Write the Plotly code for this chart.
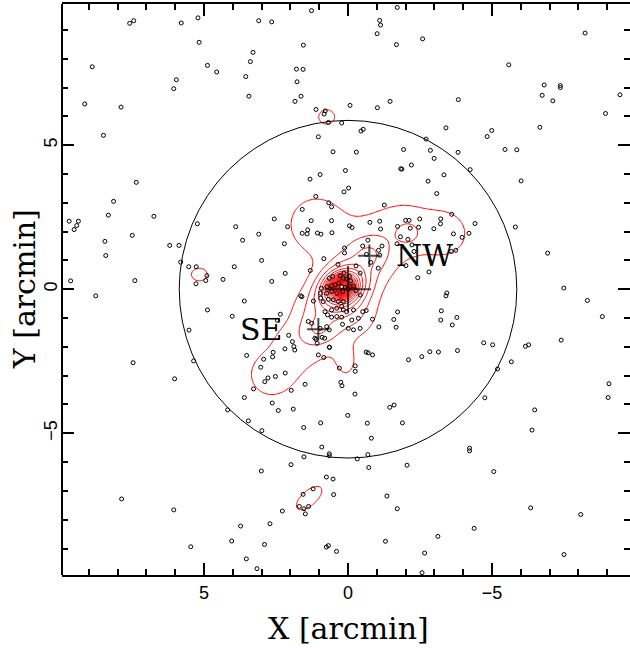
import numpy as np
import plotly.graph_objects as go

# Galaxy positions relative to the cluster centre (arcmin)
gal_x = [
    7.58, 7.44, 5.79, 5.21, 5.17, 8.88, 4.88, 4.56, 5.96, 6.05, 3.55, 3.39, 3.44, 9.14, 7.88, 8.49,
    7.35, 8.14, 8.32, 6.74, 9.68, 9.36, 9.42, 9.51, 7.49, 8.44, 8.41, 6.19, 5.87, 5.23, 3.90, 3.66,
    5.81, 5.53, 5.27, 4.90, 4.94, 5.28, 4.34, 3.95, 9.63, 7.40,
    1.27, -1.71, 3.10, 2.65, -1.10, -1.13, -1.01, -2.59, -1.68, 1.55, 3.30, 1.79, 1.56, 1.77, 1.63,
    1.84, -0.07, -1.02, -1.46, 1.11, 0.79, 0.83, 0.68, 0.22, -0.45, -0.53, 1.03, -2.71, -1.93, -2.86,
    -2.99, 0.52, -0.29, -1.83, -1.87, -2.20, 0.09, 0.97, 1.32, -2.78, -0.02, 0.14, -3.08, 1.12, -1.26,
    0.67, 0.57, 1.59, 2.56, 1.28, 0.57, 2.10, 3.10, 1.59, 1.42, 1.40, 1.06, 0.94, 0.56, -0.05, -0.14,
    -0.76, -1.10, -1.13, -1.72, -2.00, -2.12, -2.16, -2.49, -2.45, -2.98, -3.22, -3.21, -1.82, -2.08,
    -1.70, -2.22, -2.29, 2.21, 3.00, 0.84, 0.12, 0.12, -0.69, -0.51, -1.18, -1.06, -1.10, -0.64, -0.79,
    -0.28, -1.05, 0.35, 1.31, 2.18, 2.65, -2.01, -2.81, -2.42, 0.14, -0.42,
    -8.23, -5.58, -6.81, -7.37, -7.37, -6.74, -7.11, -9.44, -8.94, -3.83, -3.40, -4.99, -4.83, -6.66,
    -3.82, -5.45, -5.86, -4.24, -3.33, -6.01, -3.60, -4.41, -5.81, -3.66, -4.20, -3.96, -3.59, -3.74,
    -6.93, -7.49,
    8.76, 4.88, 4.02, 3.60, 5.52, 3.52, 5.36, 7.46, 6.02, 3.60, 4.18, 3.46, 7.86, 6.05, 3.73, 4.04,
    5.46, 3.53,
    1.64, 1.60, 2.35, 2.45, 2.06, 1.93, 2.19, 1.85, 2.60, 2.62, 2.93, 3.03, 2.18, 2.52, 2.78, 2.89,
    3.28, 1.97, 1.49, 2.63, 2.42, 1.90, 2.99, 1.54, 0.95, 0.01, -0.67, -0.81, -1.89, -1.45, -1.60,
    -0.24, 0.25, 0.21, 0.30, -0.25, -0.25, 1.03, 0.84, 0.64, -0.63, -0.70, -0.85, -2.10, -2.56, -2.84,
    -3.14, -1.72, -1.59, -1.67, -3.24, -3.22, -1.07, -0.85, 0.91, 0.65, 0.65, 1.53, -0.32, -0.69,
    -0.72, -2.05, 1.98, 3.01, 0.75, 0.52, 1.21, 0.50, 1.56, 1.69, 1.53, 1.37, 1.48, 2.28, 2.71, -1.35,
    -1.71, 2.90, 0.75, 0.68, 0.40, -1.30, -2.66, -3.12, 3.16, -2.57,
    -3.43, -3.40, -3.78, -3.62, -3.80, -4.71, -5.02, -6.16, -6.27, -7.40, -8.31, -8.83, -5.67, -5.19,
    -4.75, -6.48, -6.39, -9.06, -9.03, -4.22, -4.22, -5.06, -6.34, -8.08, -4.38, -7.50,
    0.65, 0.53, 0.28, 0.16, 0.05, -0.05, -0.09, 0.32, 0.45, 0.22, 0.10, -0.07, -0.19, 0.72, 0.57,
    0.92, 0.95, 0.74, 0.57, 0.39, 0.18, -0.01, -0.42, -0.28, 0.68, 0.51, 0.34, 0.16, 0.22, 0.39, 0.57,
    0.16, 0.86, 0.95, 1.20, 0.80, 0.71, 0.57, 0.39, 0.22, 0.05, -0.19, -0.36, -0.13, -0.51, -0.63,
    0.19, -0.01, -0.19, -0.42, 0.65, 0.97, 1.26, 1.38, 1.15, 0.81, 0.65, 1.88, 1.11, 1.07, 0.90, 0.74,
]
gal_y = [
    9.23, 9.32, 9.24, 9.42, 8.57, 7.72, 7.77, 7.54, 7.27, 6.96, 7.38, 7.90, 6.70, 6.43, 6.32, 5.34,
    3.71, 3.05, 2.57, 2.53, 2.36, 2.36, 2.21, 2.07, 1.87, 1.66, 1.17, 1.52, 1.52, 2.27, 2.17, 1.70,
    0.94, 0.78, 0.78, 0.47, 0.30, 0.19, 0.34, 0.78, 0.29, 0.30,
    9.67, 9.78, 9.32, 9.28, 9.33, 9.17, 8.87, 8.69, 8.49, 8.47, 8.22, 7.64, 7.63, 7.20, 6.70,
    6.52, 6.38, 6.30, 6.52, 6.24, 6.19, 6.08, 5.79, 5.77, 5.49, 5.55, 5.29, 5.21, 4.85, 4.82,
    4.54, 4.77, 4.76, 4.18, 4.17, 4.31, 4.12, 3.98, 3.82, 3.75, 3.51, 3.38, 3.32, 3.22, 2.92,
    3.00, 2.86, 2.77, 2.44, 2.38, 2.38, 2.17, 1.91, 1.94, 1.92, 2.06, 1.95, 1.91, 1.96, 2.20, 2.14,
    2.32, 2.36, 2.09, 2.18, 2.39, 2.39, 2.12, 2.44, 2.15, 2.10, 2.44, 2.27, 1.82, 1.73,
    1.58, 1.54, 1.31, 1.58, 1.00, 1.06, 1.43, 1.26, 1.70, 1.50, 1.50, 1.35, 1.18, 1.21, 0.93,
    0.81, 0.73, 0.86, 0.65, 0.55, 0.27, 0.82, 0.60, 0.40, 0.56, 0.56,
    8.89, 7.79, 7.09, 7.07, 7.00, 6.73, 6.54, 6.75, 6.10, 6.58, 5.60, 5.51, 5.30, 5.62,
    4.75, 4.85, 4.84, 4.15, 3.97, 3.76, 2.60, 2.28, 2.16, 1.92, 1.94, 1.80, 1.31, 1.35,
    1.25, 0.04,
    -0.23, -0.72, -0.94, -0.41, -1.42, -2.30, -2.49, -2.55, -3.11, -3.76, -4.19, -4.57, -7.28, -7.66,
    -8.22, -8.74, -8.94, -9.36,
    -0.23, -0.26, -0.87, -1.08, -1.60, -1.82, -2.07, -2.11, -2.19, -2.35, -2.43, -2.71, -2.91, -3.03,
    -3.08, -3.21, -3.46, -3.51, -3.30, -3.95, -4.21, -4.16, -4.91, -4.80, -4.64, -4.38, -4.65, -5.17,
    -4.64, -4.10, -4.02, -3.64, -3.23, -3.35, -2.74, -2.66, -2.85, -2.28, -2.37, -2.02, -2.18, -2.21,
    -2.28, -2.45, -2.34, -2.17, -2.18, -0.79, -1.05, -1.32, -0.75, -1.07, -1.31, -1.04, -5.48, -5.71,
    -5.78, -5.82, -5.89, -5.74, -6.19, -6.11, -6.09, -6.31, -6.52, -6.59, -6.93, -7.13, -7.12, -7.54,
    -7.62, -7.54, -7.80, -7.70, -8.14, -7.18, -7.62, -8.86, -8.95, -8.90, -9.10, -8.75, -9.16, -8.58,
    -9.70, -9.84,
    -0.13, -0.23, -0.98, -1.24, -2.13, -1.86, -1.93, -1.98, -1.93, -1.77, -0.39, -0.95, -2.52, -2.77,
    -3.77, -4.19, -4.89, -3.28, -3.76, -5.52, -5.61, -6.33, -7.59, -7.82, -8.30, -9.21,
    0.38, 0.44, 0.47, 0.38, 0.35, 0.44, 0.29, 0.21, 0.15, 0.09, 0.07, 0.09, 0.11, 0.09, 0.12,
    0.03, -0.14, -0.14, -0.08, -0.14, -0.08, 0.00, -0.20, -0.05, -0.35, -0.37, -0.43, -0.43, -0.60,
    -0.66, -0.72, -0.72, -0.43, -0.31, -0.41, -0.78, -0.89, -0.97, -0.95, -0.97, -0.78, -0.72, -1.01,
    -1.07, -0.78, -0.74, -1.22, -1.36, -1.41, -1.36, -1.41, -1.36, -1.18, -1.12, -1.70, -1.70, -2.01,
    -1.99, -1.74, -1.88, -1.67, -1.30,
]

# Components of the smoothed galaxy surface-density map
# (centre x, centre y, amplitude, major sigma, minor sigma, position angle in degrees)
comp_x = [0.22, 0.22, 0.15, -0.74, 1.05, -2.90, -3.50, -2.10, 1.10, 2.75, 2.20, 0.05, -0.40, 1.40,
          5.16, 0.74, 1.35]
comp_y = [0.08, 0.06, -0.10, 1.20, -1.42, 1.92, 1.95, 1.95, 2.25, -2.95, -1.70, -2.55, -1.00, -0.60,
          0.51, 5.98, -7.25]
comp_amp = [16.0, 8.0, 2.8, 1.0, 1.0, 1.15, 0.5, 0.95, 1.6, 1.35, 0.5, 1.15, 0.8, 0.5,
            1.3, 1.3, 1.3]
comp_sa = [0.22, 0.50, 2.00, 0.40, 0.40, 1.20, 0.50, 0.30, 0.90, 0.65, 0.50, 0.30, 0.55, 0.50,
           0.38, 0.38, 0.75]
comp_sb = [0.19, 0.40, 0.75, 0.35, 0.35, 0.92, 0.55, 0.30, 0.90, 0.65, 0.50, 0.45, 0.55, 0.50,
           0.30, 0.34, 0.35]
comp_rot = [0, 150, 124, 0, 0, 0, 0, 0, 0, 0, 0, 0, 0, 0, 0, 0, 139]

# Sub-cluster centroids and labels
peak_x = [0.0, -0.74, 1.03]
peak_y = [0.0, 1.16, -1.39]
peak_size = [33, 16, 16]
label_text = ["SE", "NW"]
label_x = [3.02, -2.67]
label_y = [-1.41, 1.16]

circle_radius = 5.86
x_range = [9.93, -9.79]
y_range = [-9.92, 9.90]

# Evaluate the density surface on a grid
gx = np.linspace(-10, 10, 501)
gy = np.linspace(-10, 10, 501)
GX, GY = np.meshgrid(gx, gy)
dens = np.zeros_like(GX)
for cx, cy, a, sa, sb, rot in zip(comp_x, comp_y, comp_amp, comp_sa, comp_sb, comp_rot):
    t = np.deg2rad(rot)
    dx, dy = GX - cx, GY - cy
    u = dx * np.cos(t) + dy * np.sin(t)
    v = -dx * np.sin(t) + dy * np.cos(t)
    dens += a * np.exp(-0.5 * ((u / sa) ** 2 + (v / sb) ** 2))

fig = go.Figure()

fig.add_trace(go.Contour(
    x=gx, y=gy, z=dens,
    contours=dict(start=1, end=30, size=1, coloring="lines"),
    colorscale=[[0, "#ff0000"], [1, "#ff0000"]],
    line=dict(width=1),
    showscale=False, hoverinfo="skip",
))

fig.add_trace(go.Scatter(
    x=gal_x, y=gal_y, mode="markers",
    marker=dict(symbol="circle-open", size=4, color="black", line=dict(width=1)),
    hoverinfo="skip",
))

fig.add_trace(go.Scatter(
    x=peak_x, y=peak_y, mode="markers",
    marker=dict(symbol="cross-thin", size=peak_size, color="black",
                line=dict(width=2, color="black")),
    hoverinfo="skip",
))

fig.add_shape(type="circle", xref="x", yref="y",
              x0=-circle_radius, x1=circle_radius, y0=-circle_radius, y1=circle_radius,
              line=dict(color="black", width=1))

# left frame edge (the right edge lies just outside the page)
fig.add_shape(type="line", xref="paper", yref="paper", x0=0, x1=0, y0=0, y1=1,
              line=dict(color="black", width=2))

for t, lx, ly in zip(label_text, label_x, label_y):
    fig.add_annotation(x=lx, y=ly, text=t, showarrow=False, xanchor="center", yanchor="middle",
                       font=dict(family="DejaVu Serif", size=30, color="black"))

fig.add_annotation(x=0, y=-0.093, xref="x", yref="paper", text="X [arcmin]", showarrow=False,
                   xanchor="center", yanchor="middle",
                   font=dict(family="DejaVu Serif", size=30, color="black"))
fig.add_annotation(x=-0.067, y=0, xref="paper", yref="y", text="Y [arcmin]", showarrow=False,
                   xanchor="center", yanchor="middle", textangle=-90,
                   font=dict(family="DejaVu Serif", size=30, color="black"))

axis_common = dict(
    showgrid=False, zeroline=False, ticks="inside", ticklen=12, tickwidth=2, tickcolor="black",
    dtick=5, tick0=0, mirror="ticks",
    minor=dict(dtick=1, tick0=0, ticks="inside", ticklen=6, tickwidth=2, tickcolor="black"),
    tickfont=dict(family="Liberation Sans", size=18, color="black"),
)

fig.update_xaxes(range=x_range, showline=True, linewidth=2, linecolor="black", **axis_common)
fig.update_yaxes(range=y_range, showline=False, tickangle=-90, **axis_common)

fig.update_layout(
    width=630, height=648,
    margin=dict(l=62, r=0, t=4, b=73),
    paper_bgcolor="white", plot_bgcolor="white",
    showlegend=False,
)

fig.write_html("out.html")
